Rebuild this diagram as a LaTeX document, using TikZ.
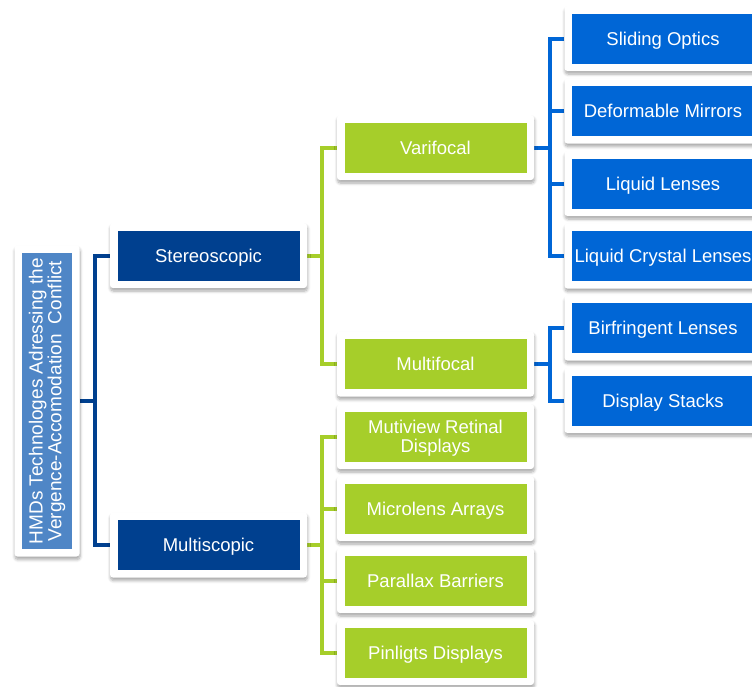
\documentclass[tikz,border=0pt]{standalone}
\usepackage{fontspec}
\setmainfont{Liberation Sans}
\usetikzlibrary{calc,shadows.blur,backgrounds}
\definecolor{rootblue}{RGB}{79,134,198}
\definecolor{darkblue}{RGB}{0,64,143}
\definecolor{leafgreen}{RGB}{166,206,42}
\definecolor{brightblue}{RGB}{0,102,214}

\begin{document}
\begin{tikzpicture}[x=1pt,y=-1pt,
  card/.style={rectangle, rounded corners=3pt, fill=white, inner sep=0pt,
    minimum width=197pt, minimum height=65pt, text=white,
    text height=13.6pt, text depth=0pt,
    font=\fontsize{18.5}{18.5}\selectfont, align=center,
    blur shadow={shadow xshift=0.5pt, shadow yshift=-3pt,
      shadow blur radius=3pt, shadow opacity=35, shadow blur steps=6},
    path picture={\fill[#1, sharp corners]
      ($(path picture bounding box.south west)+(7.5pt,7.5pt)$) rectangle
      ($(path picture bounding box.north east)+(-7.5pt,-7.5pt)$);}},
  cardtext/.style={text=white, align=center, inner sep=0pt},
  link/.style={draw=#1, line width=4pt}
]
\useasboundingbox (0,0) rectangle (752,686);

% root
\node[card=rootblue, minimum width=65pt, minimum height=311pt] (root) at (47,401) {};
\node[cardtext, rotate=90, font=\fontsize{19}{17}\selectfont] (rootlabel) at (root.center)
  {HMDs Technologes Adressing the\\Vergence-Accomodation\hspace{5pt} Conflict};

% second level
\node[card=darkblue] (stereo) at (208.5,255.5) {Stereoscopic};
\node[card=darkblue] (multi)  at (208.5,545)   {Multiscopic};

% third level
\node[card=leafgreen] (vari)  at (435.5,147.5) {Varifocal};
\node[card=leafgreen] (mfoc)  at (435.5,364)   {Multifocal};
\node[card=leafgreen] (mrd)   at (435.5,436.5) {};
\node[cardtext, font=\fontsize{18.5}{18.5}\selectfont, yshift=-1.5pt] (mrdlabel) at (mrd.center)
  {Mutiview Retinal\\Displays};
\node[card=leafgreen] (mla)   at (435.5,508.5) {Microlens Arrays};
\node[card=leafgreen] (pb)    at (435.5,580.5) {Parallax Barriers};
\node[card=leafgreen] (pd)    at (435.5,652.5) {Pinligts Displays};

% fourth level
\node[card=brightblue] (so)  at (663,38.5)  {Sliding Optics};
\node[card=brightblue] (dm)  at (663,111)   {Deformable Mirrors};
\node[card=brightblue] (ll)  at (663,183.5) {Liquid Lenses};
\node[card=brightblue] (lcl) at (663,256)   {Liquid Crystal Lenses};
\node[card=brightblue] (bl)  at (663,328)   {Birfringent Lenses};
\node[card=brightblue] (ds)  at (663,400.5) {Display Stacks};

% trunk positions
\coordinate (j0) at (95,0);
\coordinate (j1) at (322,0);
\coordinate (j2) at (550,0);

\begin{scope}[on background layer]
  \draw[link=darkblue] (root.east) -- (root.east -| j0);
  \draw[link=darkblue] (stereo.west) -| (j0 |- multi.west) -- (multi.west);

  \draw[link=leafgreen] (stereo.east) -- (stereo.east -| j1);
  \draw[link=leafgreen] (vari.west) -| (j1 |- mfoc.west) -- (mfoc.west);

  \draw[link=leafgreen] (multi.east) -- (multi.east -| j1);
  \draw[link=leafgreen] (mrd.west) -| (j1 |- pd.west) -- (pd.west);
  \draw[link=leafgreen] (mla.west) -- (mla.west -| j1);
  \draw[link=leafgreen] (pb.west) -- (pb.west -| j1);

  \draw[link=brightblue] (vari.east) -- (vari.east -| j2);
  \draw[link=brightblue] (so.west) -| (j2 |- lcl.west) -- (lcl.west);
  \draw[link=brightblue] (dm.west) -- (dm.west -| j2);
  \draw[link=brightblue] (ll.west) -- (ll.west -| j2);

  \draw[link=brightblue] (mfoc.east) -- (mfoc.east -| j2);
  \draw[link=brightblue] (bl.west) -| (j2 |- ds.west) -- (ds.west);
\end{scope}
\end{tikzpicture}
\end{document}
